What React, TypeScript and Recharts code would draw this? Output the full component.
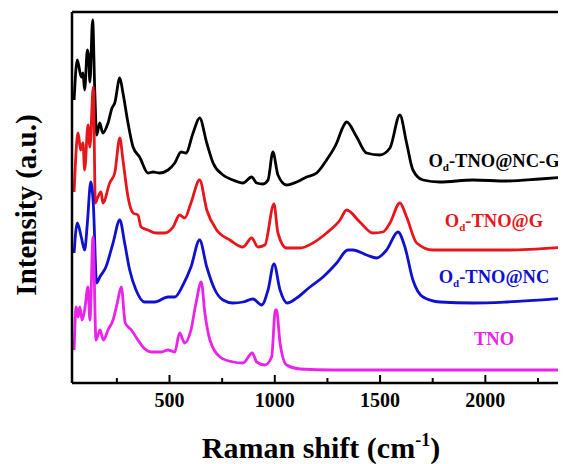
import { Line, LineChart, XAxis, YAxis } from "recharts";

// Raman shift (cm-1) / intensity (a.u., stacked offsets as plotted)
const NCG_SHIFT = [47, 62, 81, 89, 97, 110, 116, 122, 135, 145, 154, 169, 183, 208, 227, 240, 264, 279, 303, 327, 358, 398, 422, 453, 493, 525, 555, 578, 612, 643, 677, 707, 754, 801, 849, 890, 914, 944, 968, 991, 1015, 1056, 1104, 1151, 1199, 1246, 1294, 1324, 1341, 1389, 1436, 1499, 1547, 1594, 1626, 1656, 1704, 1784, 1941, 2101, 2259, 2383];
const NCG_INT = [283, 323, 306, 310, 293, 333, 326, 301, 363, 293, 248, 260, 250, 260, 275, 280, 305, 290, 260, 236, 226, 210, 211, 210, 213, 220, 231, 230, 250, 265, 240, 220, 208, 203, 200, 206, 200, 199, 203, 231, 208, 198, 201, 206, 210, 223, 240, 256, 261, 246, 230, 228, 235, 268, 240, 213, 203, 201, 203, 202, 204, 206];

const G_SHIFT = [47, 66, 78, 89, 97, 113, 122, 138, 148, 160, 175, 184, 216, 240, 264, 279, 303, 327, 350, 365, 398, 436, 477, 517, 548, 572, 602, 643, 677, 724, 787, 849, 890, 920, 953, 996, 1015, 1056, 1120, 1181, 1246, 1310, 1341, 1404, 1466, 1514, 1547, 1594, 1626, 1674, 1751, 1941, 2101, 2383];
const G_INT = [191, 250, 233, 240, 213, 258, 236, 296, 180, 186, 191, 180, 200, 210, 245, 223, 186, 170, 168, 156, 153, 150, 150, 156, 168, 165, 180, 203, 173, 153, 143, 136, 145, 136, 138, 179, 150, 135, 135, 140, 150, 163, 173, 161, 150, 151, 160, 180, 166, 140, 133, 133, 133, 136];

const NC_SHIFT = [47, 62, 81, 97, 110, 126, 138, 154, 169, 198, 232, 264, 287, 311, 341, 382, 430, 493, 525, 564, 602, 643, 677, 716, 754, 801, 849, 896, 938, 968, 996, 1025, 1059, 1104, 1167, 1229, 1294, 1347, 1371, 1436, 1484, 1531, 1585, 1618, 1656, 1704, 1784, 1941, 2101, 2383];
const NC_INT = [130, 160, 146, 133, 160, 201, 180, 100, 106, 116, 140, 163, 140, 113, 93, 81, 81, 86, 86, 98, 116, 143, 116, 93, 83, 80, 81, 84, 78, 93, 119, 93, 80, 85, 96, 106, 120, 133, 133, 128, 125, 133, 151, 136, 103, 86, 81, 80, 81, 85];

const TNO_SHIFT = [47, 57, 66, 74, 85, 97, 113, 122, 137, 151, 170, 186, 208, 232, 252, 271, 290, 319, 350, 374, 414, 461, 493, 525, 548, 572, 602, 626, 651, 668, 692, 740, 801, 849, 893, 914, 953, 985, 1003, 1008, 1025, 1056, 1120, 1276, 1594, 2383];
const TNO_INT = [33, 76, 66, 76, 63, 73, 96, 63, 146, 43, 53, 43, 53, 63, 80, 96, 60, 53, 43, 36, 31, 31, 33, 31, 50, 40, 53, 80, 101, 70, 43, 26, 21, 20, 30, 21, 18, 26, 73, 73, 40, 18, 14, 13, 13, 13];

const X_TICKS = [250, 500, 750, 1000, 1250, 1500, 1750, 2000, 2250];

const SERIES = [
  { name: "Od-TNO@NC-G", color: "#000000", shift: NCG_SHIFT, int: NCG_INT },
  { name: "Od-TNO@G", color: "#e8161a", shift: G_SHIFT, int: G_INT },
  { name: "Od-TNO@NC", color: "#1010d0", shift: NC_SHIFT, int: NC_INT },
  { name: "TNO", color: "#ea22ea", shift: TNO_SHIFT, int: TNO_INT },
];

const FONT = '"Liberation Serif", "Times New Roman", serif';

function AxisTick(props: any) {
  const { x, y, payload } = props;
  const major = payload.value % 500 === 0;
  return (
    <g>
      <line x1={x} x2={x} y1={y} y2={y - (major ? 8 : 5)} stroke="#000" strokeWidth={2} />
      {major && (
        <text x={x} y={y + 24} textAnchor="middle" fontFamily={FONT} fontWeight="bold" fontSize={20} fill="#000">
          {payload.value}
        </text>
      )}
    </g>
  );
}

function SampleLabel({ x, y, color, text }: { x: number; y: number; color: string; text: string }) {
  const hasSub = text.startsWith("Od");
  return (
    <text x={x} y={y} textAnchor="middle" fontFamily={FONT} fontWeight="bold" fontSize={18.5} fill={color}>
      {hasSub ? (
        <>
          O
          <tspan fontSize={11} dy={4}>d</tspan>
          <tspan dy={-4}>{text.slice(2)}</tspan>
        </>
      ) : (
        text
      )}
    </text>
  );
}

export default function App() {
  const W = 558;
  const H = 456;
  return (
    <div style={{ position: "relative", width: W, height: H }}>
      <LineChart width={W} height={H} margin={{ top: 3, right: 0, bottom: 80, left: 63 }}>
        <XAxis
          type="number"
          dataKey="x"
          domain={[37, 2383]}
          allowDataOverflow
          ticks={X_TICKS}
          tick={<AxisTick />}
          tickLine={false}
          tickSize={0}
          tickMargin={0}
          height={1}
          axisLine={{ stroke: "#000", strokeWidth: 2.5 }}
        />
        <XAxis
          xAxisId="top"
          orientation="top"
          type="number"
          dataKey="x"
          domain={[37, 2383]}
          tick={false}
          tickLine={false}
          height={1}
          axisLine={{ stroke: "#000", strokeWidth: 2.5 }}
        />
        <YAxis
          type="number"
          domain={[0, 371]}
          allowDataOverflow
          tick={false}
          tickLine={false}
          width={1}
          axisLine={{ stroke: "#000", strokeWidth: 2.5 }}
        />
        {SERIES.map((s) => (
          <Line
            key={s.name}
            data={s.shift.map((x, i) => ({ x, y: s.int[i] }))}
            dataKey="y"
            type="monotone"
            stroke={s.color}
            strokeWidth={2.8}
            dot={false}
            isAnimationActive={false}
          />
        ))}
      </LineChart>
      <svg width={W} height={H} style={{ position: "absolute", left: 0, top: 0, pointerEvents: "none" }}>
        <SampleLabel x={486} y={159} color="#000000" text="Od-TNO@NC-G" />
        <SampleLabel x={486} y={219} color="#e8161a" text="Od-TNO@G" />
        <SampleLabel x={486} y={275} color="#1010d0" text="Od-TNO@NC" />
        <SampleLabel x={486} y={337} color="#ea22ea" text="TNO" />
        <text x={313} y={450} textAnchor="middle" fontFamily={FONT} fontWeight="bold" fontSize={30} fill="#000">
          Raman shift (cm
          <tspan fontSize={18} dy={-12}>-1</tspan>
          <tspan dy={12}>)</tspan>
        </text>
        <text
          transform="translate(28,197) rotate(-90)"
          textAnchor="middle"
          fontFamily={FONT}
          fontWeight="bold"
          fontSize={29}
          fill="#000"
        >
          Intensity (a.u.)
        </text>
      </svg>
    </div>
  );
}
